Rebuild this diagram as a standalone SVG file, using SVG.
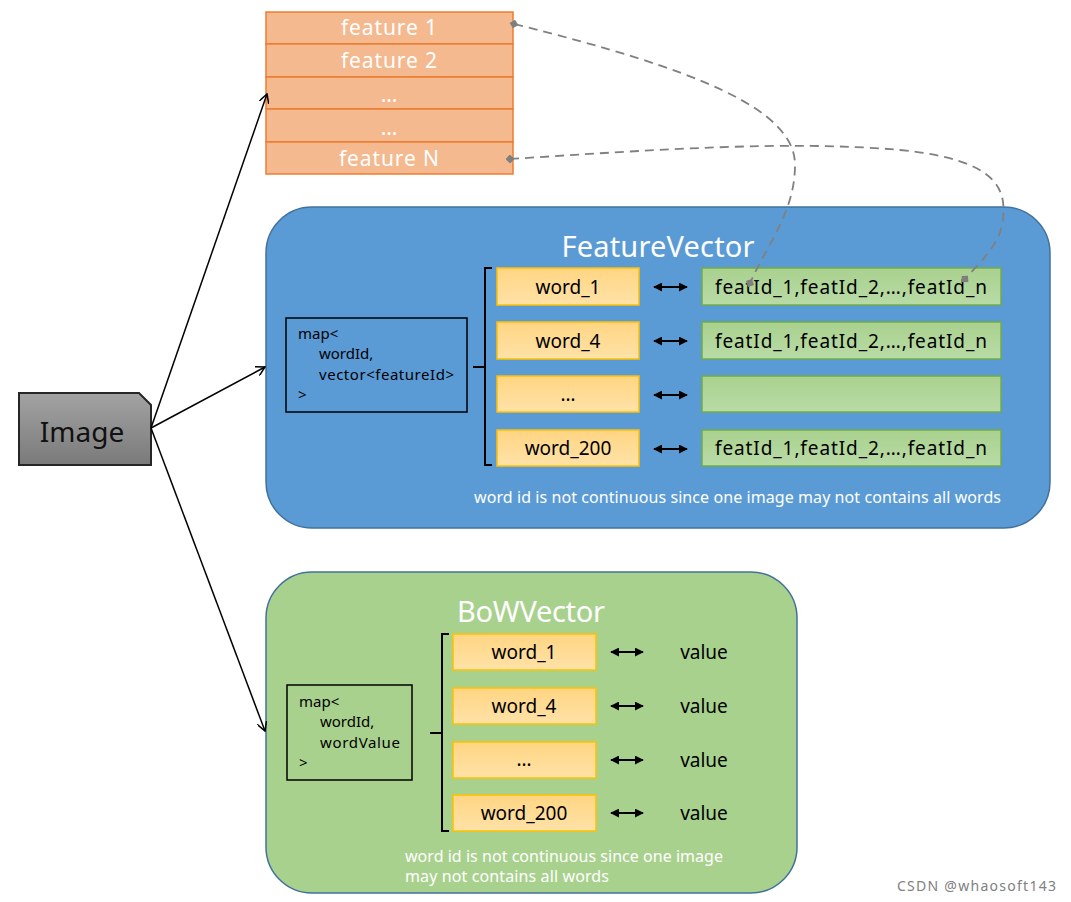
<svg xmlns="http://www.w3.org/2000/svg" width="1071" height="902" viewBox="0 0 1071 902">
<style>
text{font-family:"Noto Sans","DejaVu Sans",sans-serif}
.feat{fill:#f4b98f;stroke:#ed7d31;stroke-width:1.5}
.ft{fill:#fff;font-size:21px;text-anchor:middle}
.word{fill:url(#gy);stroke:#ffc000;stroke-width:1.5}
.wt{fill:#000;font-size:19px;text-anchor:middle}
.fid{fill:url(#gg);stroke:#70ad47;stroke-width:1.5}
.mp{fill:none;stroke:#000;stroke-width:1.5}
.mt{fill:#000;font-size:15px}
.br{fill:none;stroke:#000;stroke-width:2}
.dbl{stroke:#000;stroke-width:2;marker-start:url(#ah2);marker-end:url(#ah2)}
.ln{stroke:#000;stroke-width:1.5;fill:none;marker-end:url(#ah)}
.dash{fill:none;stroke:#808080;stroke-width:1.8;stroke-dasharray:9 6;marker-start:url(#dm);marker-end:url(#dm)}
.note{fill:#fff;font-size:16px}
</style>
<defs>
<linearGradient id="gimg" x1="0" y1="0" x2="0" y2="1"><stop offset="0" stop-color="#a3a3a3"/><stop offset="1" stop-color="#7a7a7a"/></linearGradient>
<linearGradient id="gy" x1="0" y1="0" x2="0" y2="1"><stop offset="0" stop-color="#ffd582"/><stop offset="1" stop-color="#ffe2a8"/></linearGradient>
<linearGradient id="gg" x1="0" y1="0" x2="0" y2="1"><stop offset="0" stop-color="#a9d18e"/><stop offset="1" stop-color="#b9dba6"/></linearGradient>
<marker id="ah" viewBox="0 0 10 10" refX="9" refY="5" markerWidth="10" markerHeight="10" markerUnits="userSpaceOnUse" orient="auto"><path d="M0,0 L9,5 L0,10" fill="none" stroke="#000" stroke-width="1.5"/></marker>
<marker id="ah2" viewBox="0 0 10 10" refX="9" refY="5" markerWidth="9" markerHeight="9" markerUnits="userSpaceOnUse" orient="auto-start-reverse"><path d="M0,0 L10,5 L0,10 Z" fill="#000"/></marker>
<marker id="dm" viewBox="0 0 10 10" refX="5" refY="5" markerWidth="9" markerHeight="9" markerUnits="userSpaceOnUse" orient="auto"><path d="M0,5 L5,0 L10,5 L5,10 Z" fill="#7f7f7f"/></marker>
</defs>

<g id="features">
<rect class="feat" x="266" y="12" width="247" height="32"/>
<rect class="feat" x="266" y="44" width="247" height="33"/>
<rect class="feat" x="266" y="77" width="247" height="32"/>
<rect class="feat" x="266" y="109" width="247" height="33"/>
<rect class="feat" x="266" y="142" width="247" height="32"/>
<text class="ft" x="389" y="35" textLength="96">feature 1</text>
<text class="ft" x="389" y="68" textLength="96">feature 2</text>
<text class="ft" x="389" y="102">…</text>
<text class="ft" x="389" y="135">…</text>
<text class="ft" x="389" y="166" textLength="100">feature N</text>
</g>

<g id="image">
<path d="M19,393 L139,393 L151,405 L151,465 L19,465 Z" fill="url(#gimg)" stroke="#262626" stroke-width="2"/>
<text x="82" y="442" font-size="28" text-anchor="middle" fill="#111">Image</text>
</g>

<g id="featurevector">
<rect x="266" y="207" width="784" height="321" rx="46" fill="#5b9bd5" stroke="#41719c" stroke-width="1.5"/>
<text x="658" y="257" font-size="29" fill="#fff" text-anchor="middle" textLength="193">FeatureVector</text>
<rect class="mp" x="286" y="318" width="181" height="94"/>
<text class="mt" x="298" y="339">map&lt;</text>
<text class="mt" x="319" y="359">wordId,</text>
<text class="mt" x="319" y="380" textLength="135">vector&lt;featureId&gt;</text>
<text class="mt" x="298" y="400">&gt;</text>
<path class="br" d="M492,268 L485,268 L485,465 L492,465 M485,367 L473,367"/>
<rect class="word" x="497" y="268" width="142" height="37"/>
<rect class="word" x="497" y="322" width="142" height="37"/>
<rect class="word" x="497" y="376" width="142" height="36"/>
<rect class="word" x="497" y="430" width="142" height="36"/>
<text class="wt" x="568" y="294">word_1</text>
<text class="wt" x="568" y="348">word_4</text>
<text class="wt" x="568" y="401">…</text>
<text class="wt" x="568" y="455">word_200</text>
<line class="dbl" x1="654" y1="287" x2="687" y2="287"/>
<line class="dbl" x1="654" y1="341" x2="687" y2="341"/>
<line class="dbl" x1="654" y1="395" x2="687" y2="395"/>
<line class="dbl" x1="654" y1="449" x2="687" y2="449"/>
<rect class="fid" x="702" y="268" width="299" height="37"/>
<rect class="fid" x="702" y="322" width="299" height="37"/>
<rect class="fid" x="702" y="376" width="299" height="36"/>
<rect class="fid" x="702" y="430" width="299" height="36"/>
<text class="wt" x="851" y="294" textLength="272">featId_1,featId_2,…,featId_n</text>
<text class="wt" x="851" y="348" textLength="272">featId_1,featId_2,…,featId_n</text>
<text class="wt" x="851" y="455" textLength="272">featId_1,featId_2,…,featId_n</text>
<text class="note" x="474" y="503" textLength="527">word id is not continuous since one image may not contains all words</text>
</g>

<g id="bowvector">
<rect x="266" y="572" width="531" height="321" rx="46" fill="#a9d18e" stroke="#41719c" stroke-width="1.5"/>
<text x="531" y="622" font-size="29" fill="#fff" text-anchor="middle" textLength="148">BoWVector</text>
<rect class="mp" x="287" y="685" width="125" height="95"/>
<text class="mt" x="299" y="707">map&lt;</text>
<text class="mt" x="320" y="727">wordId,</text>
<text class="mt" x="320" y="748" textLength="80">wordValue</text>
<text class="mt" x="299" y="768">&gt;</text>
<path class="br" d="M449,634 L442,634 L442,831 L449,831 M442,733 L430,733"/>
<rect class="word" x="453" y="634" width="143" height="36"/>
<rect class="word" x="453" y="688" width="143" height="36"/>
<rect class="word" x="453" y="742" width="143" height="36"/>
<rect class="word" x="453" y="795" width="143" height="36"/>
<text class="wt" x="524" y="659">word_1</text>
<text class="wt" x="524" y="713">word_4</text>
<text class="wt" x="524" y="766">…</text>
<text class="wt" x="524" y="820">word_200</text>
<line class="dbl" x1="611" y1="652" x2="643" y2="652"/>
<line class="dbl" x1="611" y1="706" x2="643" y2="706"/>
<line class="dbl" x1="611" y1="760" x2="643" y2="760"/>
<line class="dbl" x1="611" y1="813" x2="643" y2="813"/>
<text class="wt" x="704" y="659">value</text>
<text class="wt" x="704" y="713">value</text>
<text class="wt" x="704" y="767">value</text>
<text class="wt" x="704" y="820">value</text>
<text class="note" x="405" y="862" textLength="318">word id is not continuous since one image</text>
<text class="note" x="405" y="882" textLength="204">may not contains all words</text>
</g>

<g id="connectors">
<line class="ln" x1="151" y1="428" x2="267" y2="94"/>
<line class="ln" x1="151" y1="428" x2="265" y2="367"/>
<line class="ln" x1="151" y1="428" x2="265" y2="731"/>
<path class="dash" d="M514,24 C700,70 795,110 795,165 C795,210 770,240 750,283"/>
<path class="dash" d="M510,159 C650,150 790,140 900,150 C1000,160 1006,190 1003,220 C1000,245 980,262 965,279"/>
</g>

<text x="897" y="891" font-size="14" fill="#808080" textLength="159">CSDN @whaosoft143</text>
</svg>
